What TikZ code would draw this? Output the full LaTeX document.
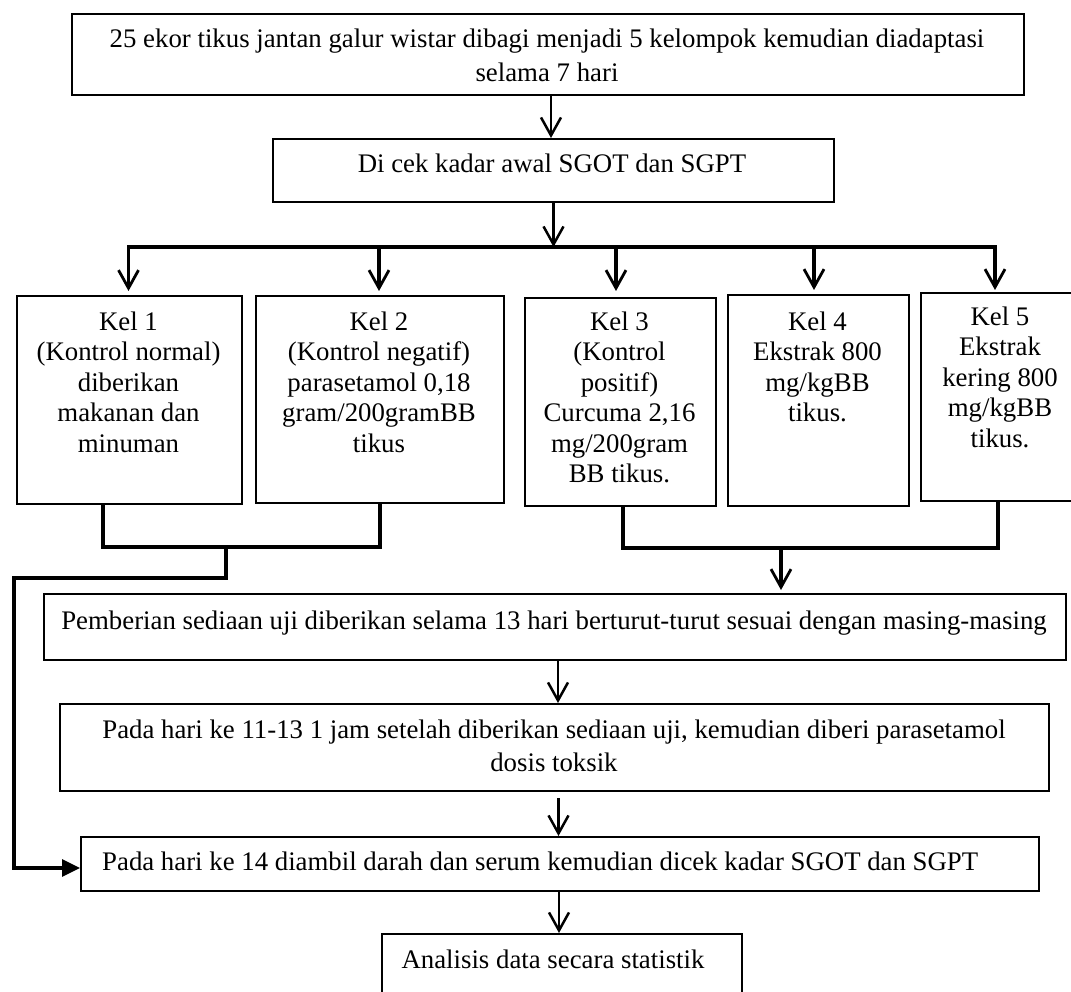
\documentclass[tikz,border=0pt]{standalone}
\usepackage{fontspec}
\setmainfont{Liberation Serif}
\usetikzlibrary{arrows.meta,calc}
\begin{document}
\begin{tikzpicture}[x=1pt,y=-1pt,
  box/.style={draw=black, line width=2pt, inner sep=0pt, anchor=north west},
  txt/.style={font=\fontsize{26.8}{30.5}\selectfont, inner sep=0pt, align=center},
  arr/.style={line width=2.5pt, -{Straight Barb[length=18pt,width=20pt,line width=2.5pt]}},
  arrk/.style={line width=3.2pt, shorten >=4pt, -{Straight Barb[length=18pt,width=20pt,line width=2.8pt]}},
  conn/.style={line width=3.3pt},
]
\useasboundingbox (0,0) rectangle (1071,992);
\fill[white] (0,0) rectangle (1071,992);

% boxes
\node[box, minimum width=952pt, minimum height=81pt] (A) at (71,13) {};
\node[box, minimum width=561pt, minimum height=63pt] (B) at (272,138) {};
\node[box, minimum width=225pt, minimum height=208pt] (k1) at (16,295) {};
\node[box, minimum width=248pt, minimum height=207pt] (k2) at (255,295) {};
\node[box, minimum width=191pt, minimum height=208pt] (k3) at (524,297) {};
\node[box, minimum width=181pt, minimum height=211pt] (k4) at (727,294) {};
\node[box, minimum width=160pt, minimum height=208pt] (k5) at (920,292) {};
\node[box, minimum width=1022pt, minimum height=66pt] (C) at (43,593) {};
\node[box, minimum width=989pt, minimum height=87pt] (D) at (59,703) {};
\node[box, minimum width=958pt, minimum height=54pt] (E) at (80,836) {};
\node[box, minimum width=360pt, minimum height=77pt] (F) at (381,933) {};

% texts
\node[txt, font=\fontsize{26.8}{34}\selectfont, anchor=north] (At) at (547,28.7)
  {25 ekor tikus jantan galur wistar dibagi menjadi 5 kelompok kemudian diadaptasi\\selama 7 hari};
\node[txt, anchor=base] (Bt) at (552,173) {Di cek kadar awal SGOT dan SGPT};
\node[txt, anchor=north] (k1t) at (128.5,311.7) {Kel 1\\(Kontrol normal)\\diberikan\\makanan dan\\minuman};
\node[txt, anchor=north] (k2t) at (379,311.7) {Kel 2\\(Kontrol negatif)\\parasetamol 0,18\\gram/200gramBB\\tikus};
\node[txt, anchor=north] (k3t) at (619.5,311.7) {Kel 3\\(Kontrol\\positif)\\Curcuma 2,16\\mg/200gram\\BB tikus.};
\node[txt, anchor=north] (k4t) at (817.5,311.7) {Kel 4\\Ekstrak 800\\mg/kgBB\\tikus.};
\node[txt, anchor=north] (k5t) at (1000,306.7) {Kel 5\\Ekstrak\\kering 800\\mg/kgBB\\tikus.};
\node[txt, anchor=base] (Ct) at (554,629) {Pemberian sediaan uji diberikan selama 13 hari berturut-turut sesuai dengan masing-masing};
\node[txt, font=\fontsize{26.8}{33}\selectfont, anchor=north] (Dt) at (554,719.7)
  {Pada hari ke 11-13 1 jam setelah diberikan sediaan uji, kemudian diberi parasetamol\\dosis toksik};
\node[txt, anchor=base west] (Et) at (102,870) {Pada hari ke 14 diambil darah dan serum kemudian dicek kadar SGOT dan SGPT};
\node[txt, anchor=base] (Ft) at (553,968) {Analisis data secara statistik};

% top arrows
\draw[arr] ([xshift=3pt]A.south) -- ([xshift=-2.5pt]B.north);
\coordinate (busL) at (128.5,247);
\coordinate (busR) at (995,247);
\draw[arr] (B.south) -- (B.south |- busL);
\draw[conn, line cap=rect] (busL) -- (busR);
\coordinate (t1) at (128.5,247);
\coordinate (t2) at (379,247);
\coordinate (t3) at (616,247);
\coordinate (t4) at (814,247);
\coordinate (t5) at (995,247);
\draw[arrk] (t1) -- (t1 |- k1.north);
\draw[arrk] (t2) -- (t2 |- k2.north);
\draw[arrk, shorten >=6pt] (t3) -- (t3 |- k3.north);
\draw[arrk] (t4) -- (t4 |- k4.north);
\draw[arrk, shorten >=2pt] (t5) -- (t5 |- k5.north);

% bottom left merge
\coordinate (j1) at (226,547);
\coordinate (l1) at (226,578);
\coordinate (l2) at (14,578);
\draw[conn] ([xshift=-26.5pt]k1.south) |- (j1) -| (k2.south);
\draw[conn, -{Triangle[length=18pt,width=17pt]}] (j1) -- (l1) -- (l2) |- ([yshift=-4pt]E.west);

% bottom right merge
\coordinate (j2) at (781,548);
\draw[conn] ([xshift=2.5pt]k3.south) |- (j2) -| ([xshift=-3pt]k5.south);
\draw[arrk, shorten >=3pt] (j2) -- (j2 |- C.north);

% lower arrows
\draw[arr] ([xshift=3pt]C.south) -- ([xshift=3pt]C.south |- D.north);
\draw[arr, shorten <=6pt] ([xshift=4pt]D.south) -- ([xshift=4pt]D.south |- E.north);
\draw[arr] ([xshift=-1pt]E.south) -- ([xshift=-1pt]E.south |- F.north);
\end{tikzpicture}
\end{document}
